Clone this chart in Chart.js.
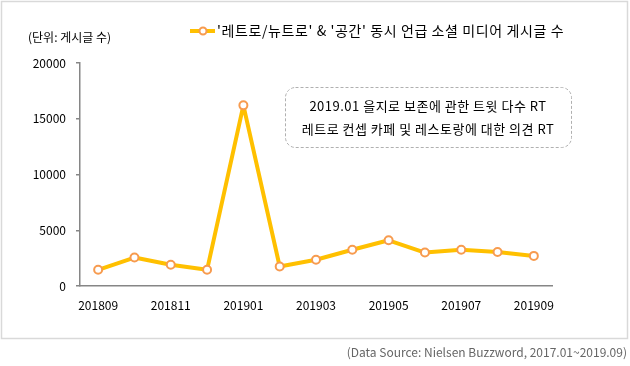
<!DOCTYPE html>
<html>
<head>
<meta charset="utf-8">
<script src="https://cdn.jsdelivr.net/npm/chart.js@4"></script>
<style>
  html, body { margin: 0; padding: 0; background: #fff; }
  #wrap { width: 630px; height: 366px; position: relative; }
</style>
</head>
<body>
<div id="wrap"><canvas id="chart" width="630" height="366"></canvas></div>
<script>
// 데이터
const months = ["201809", "201810", "201811", "201812", "201901", "201902", "201903",
                "201904", "201905", "201906", "201907", "201908", "201909"];
const postCounts = [1450, 2550, 1900, 1450, 16200, 1750, 2350, 3250, 4100, 3000, 3250, 3050, 2700];
const yTicks = [0, 5000, 10000, 15000, 20000];

const seriesLabel = "'레트로/뉴트로' & '공간' 동시 언급 소셜 미디어 게시글 수";
const unitLabel = "(단위: 게시글 수)";
const noteLines = ["2019.01 을지로 보존에 관한 트윗 다수 RT", "레트로 컨셉 카페 및 레스토랑에 대한 의견 RT"];
const sourceLabel = "(Data Source: Nielsen Buzzword, 2017.01~2019.09)";

const FONT = "'Noto Sans CJK KR', 'Malgun Gothic', sans-serif";
const LINE = "#FFC000";
const MARK = "#F79B4F";

// 테두리, 범례, 주석 박스 등
const extrasPlugin = {
    id: 'extras',
    afterDraw: (chart) => {
        const ctx = chart.ctx;
        ctx.save();
        // 바깥 테두리
        ctx.strokeStyle = "#d9d9d9";
        ctx.lineWidth = 1.5;
        ctx.strokeRect(1.5, 1.5, 626, 337);

        // 단위
        ctx.font = "12px " + FONT;
        ctx.fillStyle = "#000";
        ctx.textBaseline = "middle";
        ctx.textAlign = "left";
        ctx.fillText(unitLabel, 28, 37);

        // 범례
        ctx.strokeStyle = LINE;
        ctx.lineWidth = 4;
        ctx.beginPath();
        ctx.moveTo(190, 31);
        ctx.lineTo(215, 31);
        ctx.stroke();
        ctx.beginPath();
        ctx.arc(203, 31, 3.5, 0, Math.PI * 2);
        ctx.fillStyle = "#fff";
        ctx.fill();
        ctx.strokeStyle = MARK;
        ctx.lineWidth = 2;
        ctx.stroke();
        ctx.fillStyle = "#000";
        ctx.font = "14px " + FONT;
        ctx.letterSpacing = "0.6px";
        ctx.fillText(seriesLabel, 217, 31);

        // 주석 박스
        ctx.letterSpacing = "0.5px";
        ctx.setLineDash([3, 2]);
        ctx.strokeStyle = "#b0b0b0";
        ctx.lineWidth = 1;
        ctx.beginPath();
        ctx.roundRect(285.5, 87.5, 286, 60, 10);
        ctx.stroke();
        ctx.setLineDash([]);
        ctx.font = "13px " + FONT;
        ctx.textAlign = "center";
        ctx.fillText(noteLines[0], 428, 106);
        ctx.fillText(noteLines[1], 428, 129);

        // 출처
        ctx.letterSpacing = "0px";
        ctx.font = "12px " + FONT;
        ctx.textAlign = "right";
        ctx.fillStyle = "#666";
        ctx.fillText(sourceLabel, 627, 352);
        ctx.restore();
    }
};

new Chart(document.getElementById("chart"), {
    type: "line",
    data: {
        labels: months,
        datasets: [{
            label: seriesLabel,
            data: postCounts,
            borderColor: LINE,
            borderWidth: 4,
            borderJoinStyle: "round",
            pointRadius: 4,
            pointBorderWidth: 2,
            pointBorderColor: MARK,
            pointBackgroundColor: "#fff",
            tension: 0,
            fill: false
        }]
    },
    options: {
        responsive: false,
        animation: false,
        layout: { padding: { left: 0, top: 63, right: 78, bottom: 0 } },
        plugins: {
            legend: { display: false },
            tooltip: { enabled: false }
        },
        scales: {
            x: {
                offset: true,
                grid: { display: false, drawTicks: false },
                border: { color: "#868686", width: 1.5 },
                ticks: {
                    autoSkip: false,
                    maxRotation: 0,
                    padding: 12,
                    color: "#000",
                    font: { family: FONT, size: 12 },
                    callback: function (v, i) { return i % 2 === 0 ? this.getLabelForValue(v) : ""; }
                },
                afterFit: (s) => { s.height = 80; }
            },
            y: {
                min: 0, max: 20000,
                afterBuildTicks: (s) => { s.ticks = yTicks.map(v => ({ value: v })); },
                grid: { drawOnChartArea: false, tickLength: 4, color: "#868686", lineWidth: 1.5 },
                border: { color: "#868686", width: 1.5 },
                ticks: {
                    padding: 10,
                    color: "#000",
                    font: { family: FONT, size: 12 },
                    callback: (v) => String(v)
                },
                afterFit: (s) => { s.width = 80; }
            }
        }
    },
    plugins: [extrasPlugin]
});
</script>
</body>
</html>
